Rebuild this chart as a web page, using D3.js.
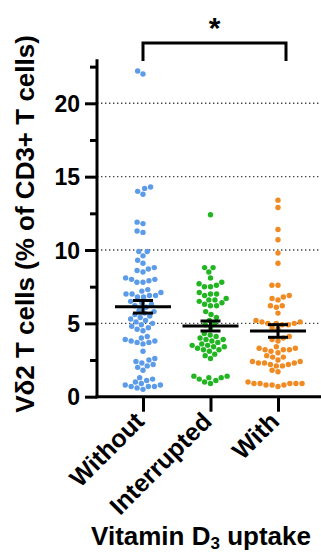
<!DOCTYPE html>
<html>
<head>
<meta charset="utf-8">
<script src="https://cdn.jsdelivr.net/npm/d3@7"></script>
<style>
  body { margin: 0; background: #fff; }
  svg { display: block; font-family: "Liberation Sans", Arial, sans-serif; font-weight: bold; }
</style>
</head>
<body>
<figure style="margin:0"></figure>
<script>
const categories = ["Without", "Interrupted", "With"];
const colors = ["#5b9be8", "#22b522", "#f08a22"];

const withoutValues = [22.2, 22.0, 14.3, 14.2, 14.0, 13.8, 11.9, 11.8, 11.3, 11.2, 9.9, 9.9, 9.6, 9.3, 9.1,
  8.8, 8.7, 8.6, 8.5, 8.1, 8.0, 8.0, 7.9, 7.8, 7.8,
  7.3, 7.2, 7.1, 7.0, 7.0, 6.9, 6.9, 6.8, 6.8,
  6.5, 6.4, 6.3, 6.2, 6.1,
  5.9, 5.8, 5.7, 5.6, 5.5, 5.4, 5.3, 5.2, 5.1, 5.0, 4.9, 4.8, 4.7, 4.6, 4.5,
  4.1, 4.0, 3.9, 3.8, 3.8, 3.7, 3.7, 3.6,
  3.1,
  2.6, 2.5, 2.4, 2.3, 2.2, 2.1, 2.0, 1.8,
  1.3, 1.2, 1.1, 1.0, 0.9, 0.8, 0.8, 0.7, 0.7, 0.7, 0.6, 0.5];
const interruptedValues = [12.4,
  8.8, 8.8, 8.5, 8.1,
  7.8, 7.7, 7.6, 7.5, 7.5,
  7.1, 7.0, 7.0, 6.9,
  6.7, 6.6, 6.6, 6.5,
  6.4, 6.3, 6.2, 6.2,
  5.8, 5.6, 5.4,
  5.2, 5.0, 4.9, 4.7,
  4.3, 4.2, 4.1, 4.0, 3.9, 3.9, 3.8, 3.7, 3.6,
  3.5, 3.5, 3.4, 3.4, 3.3, 3.2, 3.2, 3.1,
  2.9, 2.8, 2.6,
  1.4, 1.4, 1.3, 1.3, 1.2,
  1.1, 1.0, 0.9];
const withValues = [13.4, 12.9, 11.4, 10.7, 9.8, 9.1,
  7.6, 7.6,
  6.9, 6.8, 6.7, 6.6,
  6.2, 6.2, 6.1,
  5.7,
  5.2, 5.1, 5.1, 5.0, 5.0, 5.0, 4.9, 4.9,
  4.7, 4.6,
  4.1, 4.0, 3.9, 3.8,
  3.4, 3.3, 3.3, 3.2, 3.2, 3.2, 3.1, 3.0,
  2.8, 2.7, 2.7,
  2.5, 2.4, 2.4, 2.3, 2.3, 2.3, 2.2, 2.2, 2.1, 2.1,
  1.8, 1.7,
  1.0, 0.9, 0.9, 0.9, 0.9, 0.9, 0.8, 0.8, 0.8, 0.7];
const groupValues = [withoutValues, interruptedValues, withValues];

// mean and SEM
const means = [6.13, 4.82, 4.48];
const sems = [0.43, 0.34, 0.43];

const yTicks = [0, 5, 10, 15, 20];
const yMinorTicks = [2.5, 7.5, 12.5, 17.5, 22.5];

const width = 321, height = 554;
const svg = d3.select("figure").append("svg")
  .attr("width", width).attr("height", height);

const y = d3.scaleLinear().domain([0, 23]).range([396.7, 59.3]);
const x = d3.scalePoint().domain(categories).range([143, 278]);
const axisX = 97;
const r = 2.7;

// dotted gridlines
svg.append("g").selectAll("line")
  .data(yTicks.filter(d => d > 0))
  .enter().append("line")
  .attr("x1", axisX).attr("x2", width)
  .attr("y1", d => y(d)).attr("y2", d => y(d))
  .attr("stroke", "#444").attr("stroke-width", 1.4)
  .attr("stroke-dasharray", "1.4,2.6");

// beeswarm layout
function swarm(values, cx) {
  const sorted = values.slice().sort((a, b) => a - b);
  const placed = [];
  const d = 2 * r + 0.7;
  sorted.forEach(v => {
    const py = y(v);
    const blocked = [];
    placed.forEach(p => {
      const dy = Math.abs(p.y - py);
      if (dy < d) {
        const dx = Math.sqrt(d * d - dy * dy);
        blocked.push([p.x - dx, p.x + dx]);
      }
    });
    const candidates = [0];
    blocked.forEach(b => { candidates.push(b[0], b[1]); });
    candidates.sort((a, b) => Math.abs(a) - Math.abs(b));
    let best = 0;
    for (const c of candidates) {
      if (blocked.every(b => c <= b[0] + 1e-6 || c >= b[1] - 1e-6)) { best = c; break; }
    }
    placed.push({ x: best, y: py, v: v });
  });
  return placed.map(p => ({ x: cx + p.x, y: p.y }));
}

categories.forEach((c, i) => {
  const pts = swarm(groupValues[i], x(c));
  svg.append("g").selectAll("circle")
    .data(pts).enter().append("circle")
    .attr("cx", d => d.x).attr("cy", d => d.y).attr("r", r)
    .attr("fill", colors[i]);
});

// mean and SEM
const errG = svg.append("g").attr("stroke", "#000").attr("stroke-width", 3);
categories.forEach((c, i) => {
  const cx = x(c);
  errG.append("line").attr("x1", cx - 28).attr("x2", cx + 28)
    .attr("y1", y(means[i])).attr("y2", y(means[i]));
  errG.append("line").attr("x1", cx).attr("x2", cx)
    .attr("y1", y(means[i] + sems[i])).attr("y2", y(means[i] - sems[i]));
  [means[i] + sems[i], means[i] - sems[i]].forEach(v => {
    errG.append("line").attr("x1", cx - 10).attr("x2", cx + 10)
      .attr("y1", y(v)).attr("y2", y(v));
  });
});

// y axis
const yAxis = svg.append("g").attr("transform", `translate(${axisX},0)`)
  .call(d3.axisLeft(y).tickValues(yTicks).tickSize(12).tickPadding(5));
svg.append("g").attr("transform", `translate(${axisX},0)`)
  .call(d3.axisLeft(y).tickValues(yMinorTicks).tickSize(7).tickFormat(""))
  .call(g => g.select(".domain").remove());
yAxis.select(".domain").attr("d", `M0,${y(0) + 1.5}V${y(23)}`);
svg.selectAll("g.tick line").attr("stroke-width", 3);
yAxis.selectAll("text").attr("font-size", 23).attr("font-weight", "bold")
  .attr("font-family", "Liberation Sans, Arial, sans-serif").attr("fill", "#000")
  .attr("dy", "0.36em");
yAxis.select(".domain").attr("stroke-width", 3);

// x axis
const xAxis = svg.append("g").attr("transform", `translate(0,${y(0)})`)
  .call(d3.axisBottom(x).tickSize(15).tickPadding(4));
xAxis.select(".domain").attr("d", `M${axisX - 1.5},0H${width}`).attr("stroke-width", 3);
xAxis.selectAll("line").attr("stroke-width", 3);
xAxis.selectAll("text")
  .attr("font-size", 25).attr("font-weight", "bold")
  .attr("font-family", "Liberation Sans, Arial, sans-serif").attr("fill", "#000")
  .attr("text-anchor", "end")
  .attr("transform", "translate(-4,20) rotate(-45)")
  .attr("dy", "0.35em").attr("y", 0).attr("x", 0);

// axis titles
svg.append("text")
  .attr("transform", `translate(34,224) rotate(-90)`)
  .attr("text-anchor", "middle").attr("font-size", 26)
  .text("Vδ2 T cells (% of CD3+ T cells)");

const xt = svg.append("text").attr("x", 201).attr("y", 545)
  .attr("text-anchor", "middle").attr("font-size", 26);
xt.append("tspan").text("Vitamin D");
xt.append("tspan").attr("font-size", 17).attr("dy", 4).text("3");
xt.append("tspan").attr("dy", -4).text(" uptake");

// significance bracket
const bx1 = x("Without"), bx2 = x("With") + 8;
svg.append("path")
  .attr("d", `M${bx1},61V43H${bx2}V61`)
  .attr("fill", "none").attr("stroke", "#000").attr("stroke-width", 3);
svg.append("text").attr("x", (bx1 + bx2) / 2).attr("y", 38)
  .attr("text-anchor", "middle").attr("font-size", 30).text("*");
</script>
</body>
</html>
